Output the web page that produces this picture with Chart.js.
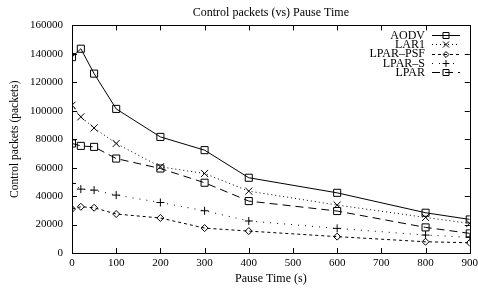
<!DOCTYPE html>
<html>
<head>
<meta charset="utf-8">
<script src="https://cdn.jsdelivr.net/npm/chart.js@4.4.1/dist/chart.umd.min.js"></script>
<style>
  html, body { margin: 0; padding: 0; background: #fff; overflow: hidden; }
  /* a little wider than the window so the last x label is cut like the original */
  #wrap { width: 482px; height: 288px; position: relative; }
</style>
</head>
<body>
<div id="wrap"><canvas id="chart"></canvas></div>
<script>
// pause time (s) on the x axis
const pauseTime = [0, 20, 50, 100, 200, 300, 400, 600, 800, 900];

// control packets per protocol
const aodv    = [137700, 143600, 126100, 101300, 81600, 72300, 52900, 42300, 28300, 23600];
const lar1    = [103900, 95700, 87900, 77000, 60600, 55900, 43500, 33700, 25000, 20800];
const lparPsf = [30900, 32500, 31800, 27400, 24600, 17500, 15400, 11500, 7900, 7200];
const lparS   = [48900, 44900, 44200, 40700, 35500, 29700, 22500, 17300, 12600, 11000];
const lpar    = [77000, 75300, 74600, 66400, 59400, 49400, 36500, 29500, 18000, 13800];

const seriesNames = ["AODV", "LAR1", "LPAR\u2013PSF", "LPAR\u2013S", "LPAR"];

const FONT = "'Liberation Serif', 'DejaVu Serif', serif";

function pts(ys) {
    return ys.map((y, i) => ({ x: pauseTime[i], y: y }));
}

function series(label, ys, dash, style, r) {
    return {
        label: label,
        data: pts(ys),
        borderColor: "#000",
        borderWidth: 1,
        borderDash: dash,
        pointStyle: style,
        pointRadius: r,
        pointBorderColor: "#000",
        pointBackgroundColor: "rgba(0,0,0,0)",
        pointBorderWidth: 1,
        tension: 0
    };
}

// frame on all four sides plus inward tick marks, gnuplot style
const frame = {
    id: "frame",
    afterDraw(chart) {
        const ctx = chart.ctx;
        const a = chart.chartArea;
        const xs = chart.scales.x, ys = chart.scales.y;
        ctx.save();
        ctx.strokeStyle = "#000";
        ctx.lineWidth = 1;
        ctx.setLineDash([]);
        ctx.strokeRect(Math.round(a.left) + 0.5, Math.round(a.top) + 0.5,
            Math.round(a.right - a.left), Math.round(a.bottom - a.top));
        ctx.beginPath();
        xs.ticks.forEach(t => {
            const px = Math.round(xs.getPixelForValue(t.value)) + 0.5;
            ctx.moveTo(px, a.bottom); ctx.lineTo(px, a.bottom - 5);
            ctx.moveTo(px, a.top); ctx.lineTo(px, a.top + 5);
        });
        ys.ticks.forEach(t => {
            const py = Math.round(ys.getPixelForValue(t.value)) + 0.5;
            ctx.moveTo(a.left, py); ctx.lineTo(a.left + 5, py);
            ctx.moveTo(a.right, py); ctx.lineTo(a.right - 5, py);
        });
        ctx.stroke();
        ctx.restore();
    }
};

// key in the top right corner: text right aligned, sample line on its right
const key = {
    id: "key",
    afterDraw(chart) {
        const ctx = chart.ctx;
        ctx.save();
        ctx.font = "12px " + FONT;
        ctx.textAlign = "right";
        ctx.textBaseline = "middle";
        chart.data.datasets.forEach((ds, i) => {
            const y = 35 + i * 9.3;
            ctx.fillStyle = "#000";
            ctx.fillText(ds.label, 425, y + 0.5);
            ctx.strokeStyle = "#000";
            ctx.lineWidth = 1;
            ctx.setLineDash(ds.borderDash);
            ctx.beginPath();
            ctx.moveTo(432, Math.round(y) + 0.5);
            ctx.lineTo(460, Math.round(y) + 0.5);
            ctx.stroke();
            ctx.setLineDash([]);
            ctx.fillStyle = "rgba(0,0,0,0)";
            Chart.helpers.drawPoint(ctx, {
                pointStyle: ds.pointStyle,
                radius: ds.pointRadius * 0.85,
                rotation: 0,
                borderWidth: 1
            }, 446, Math.round(y) + 0.5);
        });
        ctx.restore();
    }
};

new Chart(document.getElementById("chart"), {
    type: "line",
    data: {
        datasets: [
            series(seriesNames[0], aodv, [], "rect", 5),
            series(seriesNames[1], lar1, [1, 3], "crossRot", 5),
            series(seriesNames[2], lparPsf, [3, 3], "rectRot", 3.5),
            series(seriesNames[3], lparS, [1, 6], "cross", 4),
            series(seriesNames[4], lpar, [8, 5], "rect", 5)
        ]
    },
    options: {
        responsive: true,
        maintainAspectRatio: false,
        animation: false,
        layout: { padding: 0 },
        plugins: {
            legend: { display: false },
            tooltip: { enabled: false },
            title: {
                display: true,
                fullSize: false,
                text: "Control packets (vs) Pause Time",
                color: "#000",
                font: { family: FONT, size: 12, weight: "normal" },
                padding: { top: 5.5, bottom: 5.5 }
            }
        },
        scales: {
            x: {
                type: "linear",
                min: 0,
                max: 900,
                grid: { display: false, drawTicks: false },
                border: { display: true, color: "#000", width: 1 },
                ticks: { stepSize: 100, color: "#000", padding: 4, maxRotation: 0,
                         font: { family: FONT, size: 11 } },
                title: { display: true, text: "Pause Time (s)", color: "#000",
                         font: { family: FONT, size: 12 }, padding: { top: 0, bottom: 2 } },
                afterFit(scale) {
                    scale.height = 35;
                }
            },
            y: {
                min: 0,
                max: 160000,
                grid: { display: false, drawTicks: false },
                border: { display: true, color: "#000", width: 1 },
                ticks: { stepSize: 20000, color: "#000", padding: 9,
                         font: { family: FONT, size: 11 },
                         callback: v => String(v) },
                title: { display: true, text: "Control packets (packets)", color: "#000",
                         font: { family: FONT, size: 11.5 }, padding: { top: 8, bottom: 0 } },
                afterFit(scale) {
                    scale.width = 72;
                }
            }
        }
    },
    plugins: [frame, key]
});
</script>
</body>
</html>
